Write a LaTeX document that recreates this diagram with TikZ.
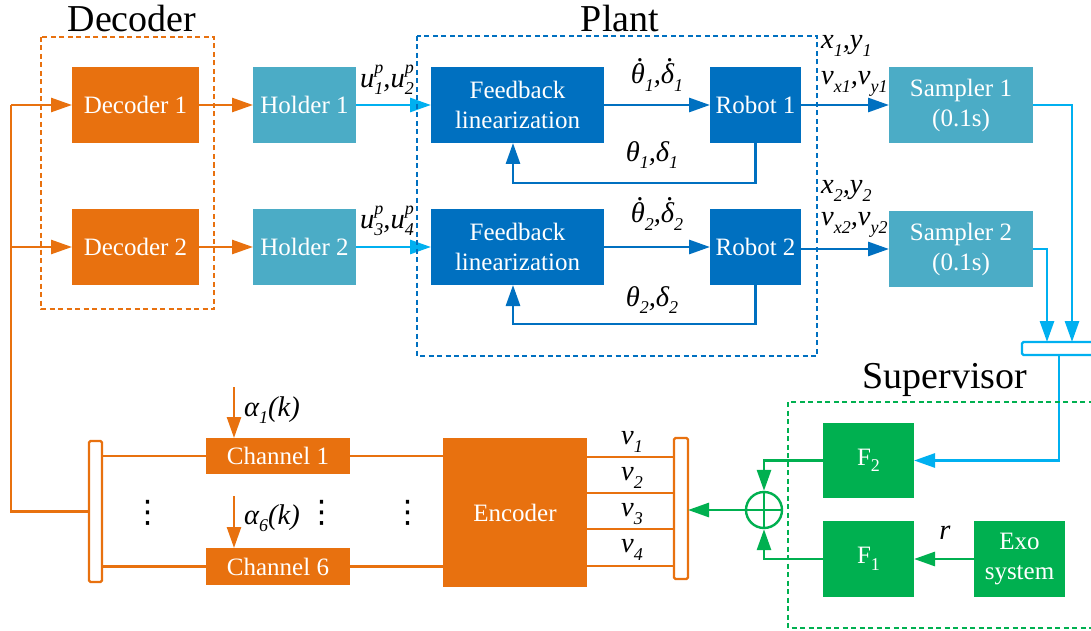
\documentclass[tikz,border=0pt]{standalone}
\usepackage{fontspec}
\setmainfont{Liberation Serif}
\newfontfamily\symfont{DejaVu Sans}
\usetikzlibrary{arrows.meta}
\definecolor{cOr}{HTML}{E8710F}
\definecolor{cTe}{HTML}{4BACC6}
\definecolor{cBl}{HTML}{0070C0}
\definecolor{cLb}{HTML}{00B0F0}
\definecolor{cGr}{HTML}{00B050}
\newcommand\lo[1]{\raisebox{-0.26em}{\fontsize{18}{18}\selectfont #1}}
\newcommand\hi[1]{\raisebox{0.48em}{\fontsize{18}{18}\selectfont #1}}
\newcommand\hilo[2]{\rlap{\hi{#1}}\lo{#2}}
\newcommand\dt[1]{\leavevmode\setbox0\hbox{#1}\rlap{\kern0.1em\hbox to\wd0{\hfil\raisebox{0.78em}{.}\hfil}}\box0}
\begin{document}
\begin{tikzpicture}[x=1pt,y=-1pt,
  blk/.style={rectangle, draw=none, inner sep=0pt, outer sep=0pt, text=white,
    font=\fontsize{25}{30}\selectfont, align=center},
  obox/.style={blk, fill=cOr},
  tbox/.style={blk, fill=cTe},
  bbox/.style={blk, fill=cBl},
  gbox/.style={blk, fill=cGr},
  lbl/.style={inner sep=0pt, font=\fontsize{28.5}{30}\selectfont\itshape},
  ttl/.style={inner sep=0pt, font=\fontsize{38}{40}\selectfont, anchor=base},
  vd/.style={inner sep=0pt, font=\fontsize{31}{31}\symfont},
  tip/.style={-{Triangle[length=21pt,width=14pt]}},
  oln/.style={draw=cOr, line width=2.6pt},
  oarr/.style={oln, tip},
  barr/.style={draw=cBl, line width=2.8pt, tip},
  lbarr/.style={draw=cLb, line width=2.8pt, tip},
  garr/.style={draw=cGr, line width=2.8pt, tip},
  dbox/.style={line width=2.8pt, dash pattern=on 5pt off 3.5pt},
  bus/.style={rectangle, fill=white, rounded corners=1.5pt, line width=2.4pt, inner sep=0pt, outer sep=0pt}
]
\useasboundingbox (0,0) rectangle (1091,631);

% titles
\node[ttl] (tdec) at (132,32) {Decoder};
\node[ttl] (tpl) at (620,32) {Plant};
\node[ttl] (tsup) at (945,388) {Supervisor};

% decoder / holders
\node[obox, minimum width=127pt, minimum height=76pt] (dec1) at (135.5,105) {Decoder 1};
\node[obox, minimum width=127pt, minimum height=76pt] (dec2) at (135.5,247) {Decoder 2};
\node[tbox, minimum width=103pt, minimum height=76pt] (hold1) at (304.5,105) {Holder 1};
\node[tbox, minimum width=103pt, minimum height=76pt] (hold2) at (304.5,247) {Holder 2};

% plant
\node[bbox, minimum width=173pt, minimum height=76pt] (fl1) at (517.5,105) {Feedback\\linearization};
\node[bbox, minimum width=173pt, minimum height=76pt] (fl2) at (517.5,247) {Feedback\\linearization};
\node[bbox, minimum width=91pt, minimum height=76pt] (rob1) at (755.5,105) {Robot 1};
\node[bbox, minimum width=91pt, minimum height=76pt] (rob2) at (755.5,247) {Robot 2};

% samplers
\node[tbox, minimum width=144pt, minimum height=76pt] (samp1) at (961,105) {Sampler 1\\(0.1s)};
\node[tbox, minimum width=144pt, minimum height=76pt] (samp2) at (961,249) {Sampler 2\\(0.1s)};

% channels / encoder
\node[obox, minimum width=144pt, minimum height=36pt] (ch1) at (278,456) {Channel 1};
\node[obox, minimum width=144pt, minimum height=37pt] (ch6) at (278,566.5) {Channel 6};
\node[obox, minimum width=144pt, minimum height=149pt] (enc) at (515,512.5) {Encoder};
\node[bus, draw=cOr, minimum width=13pt, minimum height=141pt] (lbus) at (95.5,511.5) {};
\node[bus, draw=cOr, minimum width=14pt, minimum height=141pt] (rbus) at (681,508.5) {};

% supervisor
\node[gbox, minimum width=91pt, minimum height=75pt] (f2) at (868.5,460.5) {F\lo{2}};
\node[gbox, minimum width=91pt, minimum height=76pt] (f1) at (868.5,559) {F\lo{1}};
\node[gbox, minimum width=91pt, minimum height=76pt] (exo) at (1019.5,559) {Exo\\system};
\node[circle, draw=cGr, line width=2.4pt, minimum size=36pt, inner sep=0pt] (sum) at (764,510) {};
\draw[cGr, line width=2.4pt] (sum.north) -- (sum.south) (sum.west) -- (sum.east);
\node[bus, draw=cLb, minimum width=80pt, minimum height=13pt] (tbus) at (1062,348.5) {};

% coordinates
\coordinate (lt) at (11,105);
\coordinate (a1) at (234,387);
\coordinate (a6) at (234,496);
\coordinate (fb1) at (513,183);
\coordinate (fb2) at (513,324);
\coordinate (s1d) at (1072,342);
\coordinate (s2d) at (1047,342);
\coordinate (tb) at (1059,355);

% orange connectors
\draw[oln] (lbus.west) -| (lt);
\draw[oarr] (lt) -- (dec1.west);
\draw[oarr] (lt |- dec2.west) -- (dec2.west);
\draw[oarr] (dec1.east) -- (hold1.west);
\draw[oarr] (dec2.east) -- (hold2.west);
\draw[oln] (lbus.east |- ch1.west) -- (ch1.west);
\draw[oln] (lbus.east |- ch6.west) -- (ch6.west);
\draw[oln] (ch1.east) -- (enc.west |- ch1.east);
\draw[oln] (ch6.east) -- (enc.west |- ch6.east);
\draw[oarr] (a1) -- (a1 |- ch1.north);
\draw[oarr] (a6) -- (a6 |- ch6.north);
\foreach \yy in {457,493,529,566} {
  \draw[oln] (enc.east |- 0,\yy) -- (rbus.west |- 0,\yy);
}

% blue connectors
\draw[lbarr] (hold1.east) -- (fl1.west);
\draw[lbarr] (hold2.east) -- (fl2.west);
\draw[barr] (fl1.east) -- (rob1.west);
\draw[barr] (fl2.east) -- (rob2.west);
\draw[barr] (rob1.south) |- (fb1) -- (fb1 |- fl1.south);
\draw[barr] (rob2.south) |- (fb2) -- (fb2 |- fl2.south);
\draw[barr] (rob1.east) -- (samp1.west);
\draw[barr] (rob2.east |- samp2.west) -- (samp2.west);
\draw[lbarr] (samp1.east) -| (s1d);
\draw[lbarr] (samp2.east) -| (s2d);
\draw[lbarr] (tb) |- (f2.east);

% green connectors
\draw[garr] (f2.west) -| (sum.north);
\draw[garr] (f1.west) -| (sum.south);
\draw[garr] (sum.west) -- (rbus.east |- sum.west);
\draw[garr] (exo.west) -- (f1.east);

% dashed groups
\draw[dbox, cOr] (41,37) rectangle (214,309);
\draw[dbox, cBl] (417,36) rectangle (817,356);
\draw[dbox, cGr] (788,402) rectangle (1110,628);

% labels
\node[lbl] (u12) at (387,80) {u\hilo{p}{1},u\hilo{p}{2}};
\node[lbl] (u34) at (387,221) {u\hilo{p}{3},u\hilo{p}{4}};
\node[lbl] (dth1) at (657,75) {\dt{θ}\lo{1},\dt{δ}\lo{1}};
\node[lbl] (th1) at (652,155) {θ\lo{1},δ\lo{1}};
\node[lbl] (dth2) at (657,214) {\dt{θ}\lo{2},\dt{δ}\lo{2}};
\node[lbl] (th2) at (652,300) {θ\lo{2},δ\lo{2}};
\node[lbl, anchor=west] (xy1) at (821,46) {x\lo{1},y\lo{1}};
\node[lbl, anchor=west] (vxy1) at (821,84) {v\lo{x1},v\lo{y1}};
\node[lbl, anchor=west] (xy2) at (821,191) {x\lo{2},y\lo{2}};
\node[lbl, anchor=west] (vxy2) at (821,225) {v\lo{x2},v\lo{y2}};
\node[lbl, anchor=west] (al1) at (244,410) {α\lo{1}(k)};
\node[lbl, anchor=west] (al6) at (244,518) {α\lo{6}(k)};
\node[lbl] (v1) at (632,442) {v\lo{1}};
\node[lbl] (v2) at (632,478) {v\lo{2}};
\node[lbl] (v3) at (632,514) {v\lo{3}};
\node[lbl] (v4) at (632,550) {v\lo{4}};
\node[lbl] (r) at (945,533) {r};
\node[vd] (d1) at (148,513) {⋮};
\node[vd] (d2) at (322,513) {⋮};
\node[vd] (d3) at (408,513) {⋮};
\end{tikzpicture}
\end{document}
